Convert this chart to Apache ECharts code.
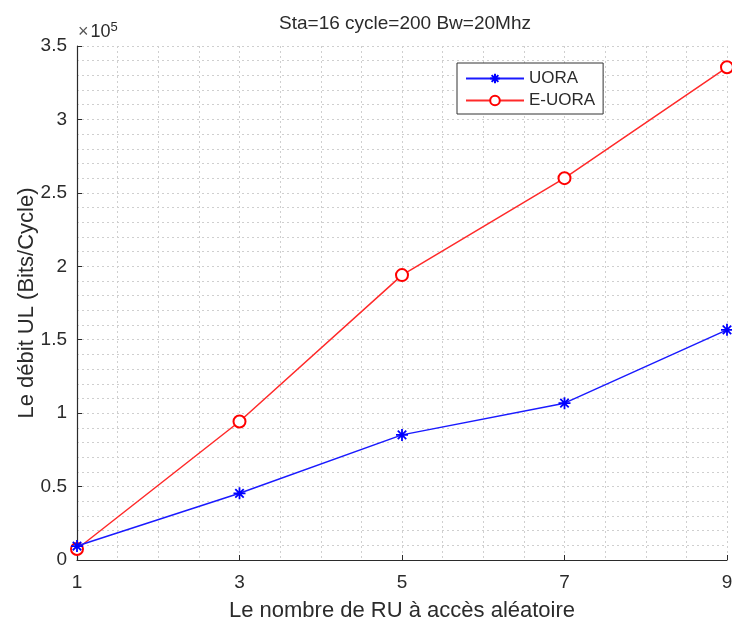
<!DOCTYPE html>
<html>
<head>
<meta charset="utf-8">
<script src="https://cdn.jsdelivr.net/npm/echarts@6/dist/echarts.min.js"></script>
<style>
  html, body { margin: 0; padding: 0; background: #fff; }
  #chart { width: 732px; height: 621px; }
</style>
</head>
<body>
<div id="chart"></div>
<script>
var ruCount = [1, 3, 5, 7, 9];
var uora = [9500, 45400, 85200, 106800, 156700];
var eUora = [7500, 94300, 194000, 260000, 335500];

function pairs(xs, ys) {
    return xs.map(function (x, i) { return [x, ys[i]]; });
}

(function () {
    var myChart = echarts.init(document.getElementById('chart'));
    var font = 'Liberation Sans, Arial, sans-serif';
    var dark = '#2b2b2b';
    var gridLine = { color: '#cfcfcf', type: [2, 3], width: 1 };

    var option = {
        animation: false,
        backgroundColor: '#fff',
        textStyle: { fontFamily: font },
        title: {
            text: 'Sta=16 cycle=200 Bw=20Mhz',
            left: 400,
            textAlign: 'center',
            top: 9,
            textStyle: { fontSize: 19, fontWeight: 'normal', color: dark, fontFamily: font }
        },
        grid: { left: 77, right: 5, top: 46, bottom: 61, outerBoundsMode: 'none', containLabel: false },
        legend: {
            left: 457,
            top: 63,
            orient: 'vertical',
            padding: [7, 8, 5, 8],
            itemGap: 5,
            itemWidth: 58,
            itemHeight: 12,
            borderColor: '#333',
            borderWidth: 1,
            backgroundColor: '#fff',
            textStyle: { fontSize: 17, color: dark, fontFamily: font },
            data: ['UORA', 'E-UORA']
        },
        graphic: [{
            type: 'text',
            left: 78,
            top: 21,
            style: {
                text: '{a|×}{b|10}{c|5}',
                rich: {
                    a: { fontSize: 18, fill: '#555', fontFamily: font },
                    b: { fontSize: 18, fill: dark, fontFamily: font, padding: [0, 0, 0, 2] },
                    c: { fontSize: 13, fill: dark, fontFamily: font, verticalAlign: 'top', padding: [0, 0, 10, 0] }
                }
            }
        }],
        xAxis: {
            type: 'value',
            min: 1,
            max: 9,
            interval: 2,
            name: 'Le nombre de RU à accès aléatoire',
            nameLocation: 'middle',
            nameGap: 40,
            nameTextStyle: { fontSize: 22, color: dark, fontFamily: font },
            axisLine: { show: true, onZero: false, lineStyle: { color: dark, width: 1.2 } },
            axisTick: { show: true, inside: true, length: 5, lineStyle: { color: dark } },
            axisLabel: { fontSize: 19, color: dark, margin: 13, fontFamily: font },
            splitLine: { show: true, lineStyle: gridLine },
            minorTick: { show: false, splitNumber: 4 },
            minorSplitLine: { show: true, lineStyle: gridLine }
        },
        yAxis: {
            type: 'value',
            min: 0,
            max: 350000,
            interval: 50000,
            name: 'Le débit UL (Bits/Cycle)',
            nameLocation: 'middle',
            nameGap: 39,
            nameMoveOverlap: false,
            nameTextStyle: { fontSize: 22, color: dark, fontFamily: font },
            axisLine: { show: true, lineStyle: { color: dark, width: 1.2 } },
            axisTick: { show: true, inside: true, length: 5, lineStyle: { color: dark } },
            axisLabel: {
                fontSize: 19, color: dark, margin: 10, fontFamily: font,
                formatter: function (v) { return String(v / 100000); }
            },
            splitLine: { show: true, lineStyle: gridLine },
            minorTick: { show: false, splitNumber: 5 },
            minorSplitLine: { show: true, lineStyle: gridLine }
        },
        series: [
            {
                name: 'UORA',
                type: 'line',
                data: pairs(ruCount, uora),
                symbol: 'path://M0,-5L0,5M-5,0L5,0M-3.5,-3.5L3.5,3.5M-3.5,3.5L3.5,-3.5',
                symbolSize: 12,
                showAllSymbol: true,
                lineStyle: { color: '#1a1aff', width: 1.5 },
                itemStyle: { color: 'rgba(0,0,0,0)', borderColor: '#0000ff', borderWidth: 1.8 },
                z: 3
            },
            {
                name: 'E-UORA',
                type: 'line',
                data: pairs(ruCount, eUora),
                symbol: 'emptyCircle',
                symbolSize: 12,
                showAllSymbol: true,
                lineStyle: { color: '#ff2a2a', width: 1.5 },
                itemStyle: { color: '#ff0000', borderColor: '#ff0000', borderWidth: 1.4 },
                z: 2
            }
        ]
    };

    myChart.setOption(option);

    window.addEventListener('resize', function () {
        myChart.resize();
    });
})();
</script>
</body>
</html>
